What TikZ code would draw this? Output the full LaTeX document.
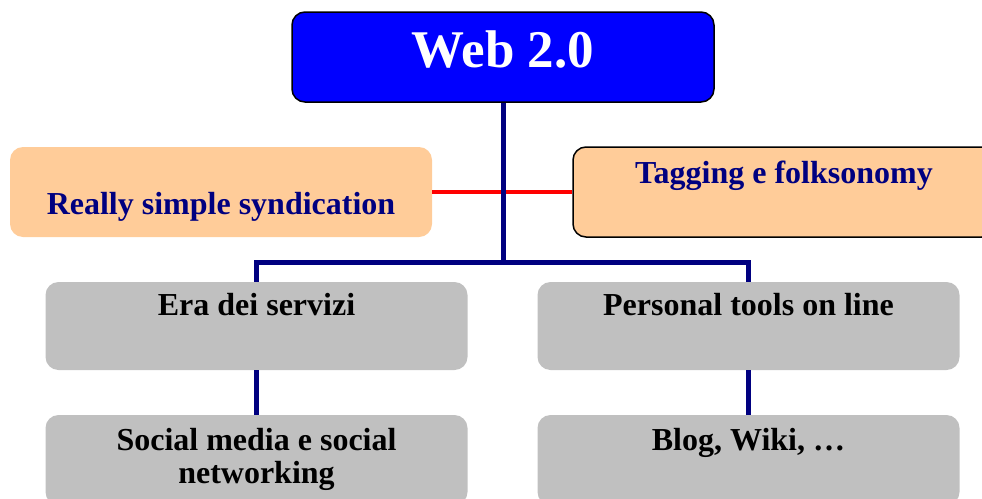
\documentclass[tikz,border=0pt]{standalone}
\usepackage{fontspec}
\setmainfont{Liberation Serif}
\definecolor{navyc}{HTML}{000080}
\definecolor{peach}{HTML}{FFCC99}
\definecolor{grayc}{HTML}{C0C0C0}
\definecolor{bluec}{HTML}{0000FF}
\begin{document}
\begin{tikzpicture}[x=1pt,y=-1pt,
  box/.style={rectangle,rounded corners=13pt,inner sep=0pt,minimum width=422pt,minimum height=90pt},
  txt/.style={anchor=base,inner sep=0pt,font=\bfseries\fontsize{32}{34}\selectfont},
  navyline/.style={draw=navyc,line width=5pt},
  redline/.style={draw=red,line width=4pt}]
\useasboundingbox (0,0) rectangle (982,498);
% boxes
\node[box,fill=bluec,draw=black,line width=1.5pt] (web) at (503,57) {};
\node[box,fill=peach] (rss) at (221,192) {};
\node[box,fill=peach,draw=black,line width=1.5pt] (tag) at (784,192) {};
\node[box,fill=grayc,minimum height=88pt] (era) at (256.5,326) {};
\node[box,fill=grayc,minimum height=88pt] (pers) at (748.5,326) {};
\node[box,fill=grayc] (soc) at (256.5,460) {};
\node[box,fill=grayc] (blog) at (748.5,460) {};
% connectors
\coordinate (j) at (503,262);
\draw[redline] (rss.east) -- (tag.west);
\draw[navyline] (web.south) -- (j);
\draw[navyline] (era.north) |- (j) -| (pers.north);
\draw[navyline] (era.south) -- (soc.north);
\draw[navyline] (pers.south) -- (blog.north);
% texts
\node[txt,text=white,font=\bfseries\fontsize{53}{60}\selectfont] (webt) at (503,67) {Web 2.0};
\node[txt,text=navyc] (rsst) at (221,214) {Really simple syndication};
\node[txt,text=navyc] (tagt) at (784,183) {Tagging e folksonomy};
\node[txt] (erat) at (256.5,315) {Era dei servizi};
\node[txt] (perst) at (748.5,315) {Personal tools on line};
\node[txt] (soct1) at (256.5,450) {Social media e social};
\node[txt] (soct2) at (256.5,483) {networking};
\node[txt] (blogt) at (748.5,450) {Blog, Wiki, \ldots};
\end{tikzpicture}
\end{document}
